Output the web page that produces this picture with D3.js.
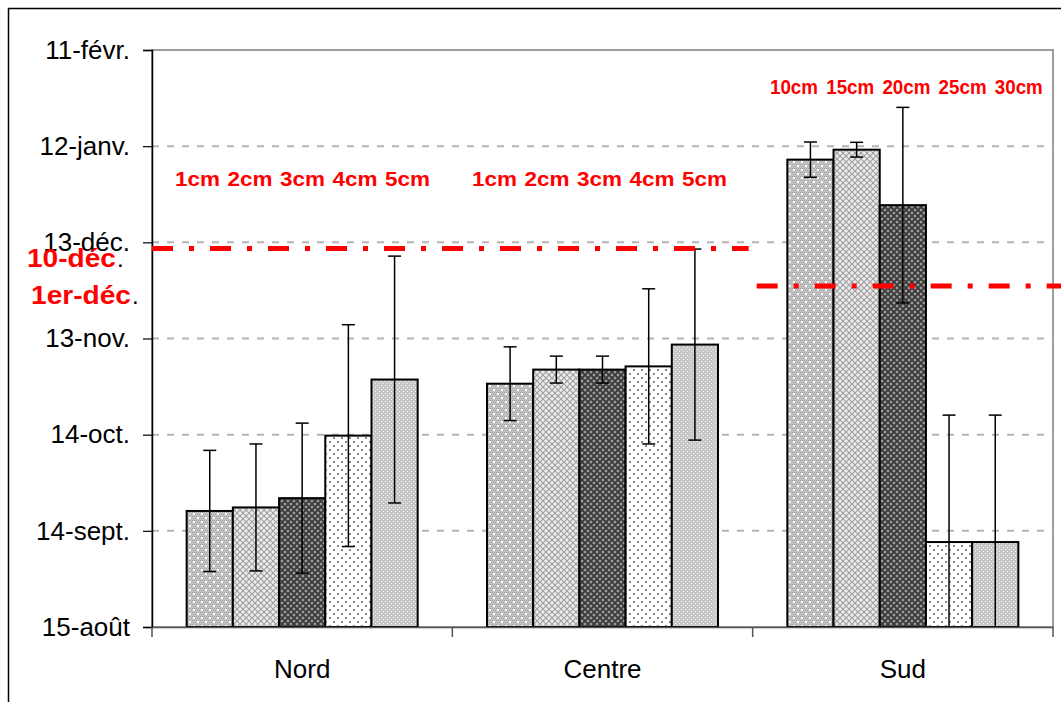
<!DOCTYPE html>
<html>
<head>
<meta charset="utf-8">
<script src="https://cdn.jsdelivr.net/npm/d3@7"></script>
<style>
  body { margin: 0; background: #fff; }
  svg { display: block; font-family: "Liberation Sans", Arial, sans-serif; }
</style>
</head>
<body>
<div id="chart"></div>
<script>
// Chart dimension
const W = 1061, H = 702
const plot = { left: 152, right: 1053, top: 50, bottom: 627 }

// days counted from 15-août (axis min), 30-day steps
const tickValues = [0, 30, 60, 90, 120, 150, 180]
const tickLabels = ["15-août", "14-sept.", "14-oct.", "13-nov.", "13-déc.", "12-janv.", "11-févr."]

const groups = ["Nord", "Centre", "Sud"]
const nordValues = [36.2, 37.3, 40.2, 59.7, 77.2]
const nordErrors = [18.9, 19.8, 23.4, 34.6, 38.5]
const centreValues = [75.9, 80.3, 80.3, 81.3, 88.1]
const centreErrors = [11.5, 4.2, 4.2, 24.2, 29.8]
const sudValues = [145.8, 148.9, 131.6, 26.5, 26.5]
const sudErrors = [5.5, 2.3, 30.5, 39.6, 39.6]

const depthLabelsNC = ["1cm", "2cm", "3cm", "4cm", "5cm"]
const depthLabelsSud = ["10cm", "15cm", "20cm", "25cm", "30cm"]

// reference dates (red dash-dot lines)
const ref10dec = 118.1
const ref1erdec = 106.4

const series = [nordValues, centreValues, sudValues]
const errors = [nordErrors, centreErrors, sudErrors]

let data = []
groups.forEach(function (g, gi) {
    series[gi].forEach(function (v, i) {
        data.push({ group: g, idx: i, value: v, err: errors[gi][i] })
    })
})

const svg = d3.select("#chart").append("svg")
    .attr("width", W)
    .attr("height", H)

// fill patterns, one per bar position
const defs = svg.append("defs")

function pattern(id, size) {
    return defs.append("pattern")
        .attr("id", id)
        .attr("patternUnits", "userSpaceOnUse")
        .attr("width", size).attr("height", size)
}
// 1: light gray mesh with white specks
let p1 = pattern("p1", 8)
p1.append("rect").attr("width", 8).attr("height", 8).attr("fill", "#c4c4c4")
for (let i = 0; i < 8; i += 2) {
    for (let j = (i / 2) % 2; j < 8; j += 2) {
        p1.append("rect").attr("x", j).attr("y", i).attr("width", 1).attr("height", 1).attr("fill", "#a6a6a6")
    }
}
p1.append("rect").attr("x", 1).attr("y", 1).attr("width", 2).attr("height", 2).attr("fill", "#fff")
p1.append("rect").attr("x", 5).attr("y", 5).attr("width", 2).attr("height", 2).attr("fill", "#fff")
// 2: light diamond lattice
let p2 = pattern("p2", 6)
p2.append("rect").attr("width", 6).attr("height", 6).attr("fill", "#ececec")
p2.append("path").attr("d", "M0,0L6,6M6,0L0,6").attr("stroke", "#a0a0a0").attr("stroke-width", 1.2)
// 3: dark lattice
let p3 = pattern("p3", 6)
p3.append("rect").attr("width", 6).attr("height", 6).attr("fill", "#9c9c9c")
p3.append("path").attr("d", "M0,0L6,6M6,0L0,6").attr("stroke", "#3a3a3a").attr("stroke-width", 1.8)
// 4: white with sparse dots
let p4 = pattern("p4", 8)
p4.append("rect").attr("width", 8).attr("height", 8).attr("fill", "#fff")
p4.append("rect").attr("x", 1).attr("y", 1).attr("width", 2).attr("height", 2).attr("fill", "#8a8a8a")
p4.append("rect").attr("x", 5).attr("y", 5).attr("width", 2).attr("height", 2).attr("fill", "#8a8a8a")
// 5: light gray fine dots
let p5 = pattern("p5", 4)
p5.append("rect").attr("width", 4).attr("height", 4).attr("fill", "#c8c8c8")
p5.append("rect").attr("x", 1).attr("y", 1).attr("width", 1).attr("height", 1).attr("fill", "#f2f2f2")
p5.append("rect").attr("x", 3).attr("y", 3).attr("width", 1).attr("height", 1).attr("fill", "#f2f2f2")

defs.append("clipPath").attr("id", "plotclip")
    .append("rect")
    .attr("x", plot.left).attr("y", plot.top)
    .attr("width", plot.right - plot.left).attr("height", plot.bottom - plot.top)

// outer frame
svg.append("rect")
    .attr("x", 8.5).attr("y", 8.5)
    .attr("width", W + 20).attr("height", H + 20)
    .attr("fill", "none").attr("stroke", "#000").attr("stroke-width", 1.5)

// scales
const x0 = d3.scaleBand().domain(groups).range([plot.left, plot.right])
const x1 = d3.scaleBand().domain(d3.range(5)).range([0, x0.bandwidth()]).paddingInner(0).paddingOuter(0.75)
const y = d3.scaleLinear().domain([0, 180]).range([plot.bottom, plot.top])

// plot area border
svg.append("rect")
    .attr("x", plot.left).attr("y", plot.top)
    .attr("width", plot.right - plot.left).attr("height", plot.bottom - plot.top)
    .attr("fill", "none").attr("stroke", "#8c8c8c").attr("stroke-width", 1.7)

// gridlines (dashed)
svg.append("g").selectAll("line")
    .data(tickValues.slice(1, -1))
    .join("line")
    .attr("x1", plot.left).attr("x2", plot.right)
    .attr("y1", d => y(d)).attr("y2", d => y(d))
    .attr("stroke", "#b4b4b4").attr("stroke-width", 2)
    .attr("stroke-dasharray", "7,8")

// bars
svg.append("g").selectAll("rect")
    .data(data)
    .join("rect")
    .attr("x", d => x0(d.group) + x1(d.idx))
    .attr("y", d => y(d.value))
    .attr("width", x1.bandwidth())
    .attr("height", d => y(0) - y(d.value))
    .attr("fill", d => "url(#p" + (d.idx + 1) + ")")
    .attr("stroke", "#000").attr("stroke-width", 2)

// error bars
const eb = svg.append("g").attr("clip-path", "url(#plotclip)")
    .selectAll("g").data(data).join("g")
    .attr("transform", d => `translate(${x0(d.group) + x1(d.idx) + x1.bandwidth() / 2},0)`)
eb.append("line")
    .attr("y1", d => y(d.value + d.err)).attr("y2", d => y(d.value - d.err))
    .attr("stroke", "#000").attr("stroke-width", 1.5)
eb.append("line")
    .attr("x1", -6.5).attr("x2", 6.5)
    .attr("y1", d => y(d.value + d.err)).attr("y2", d => y(d.value + d.err))
    .attr("stroke", "#000").attr("stroke-width", 1.5)
eb.append("line")
    .attr("x1", -6.5).attr("x2", 6.5)
    .attr("y1", d => y(d.value - d.err)).attr("y2", d => y(d.value - d.err))
    .attr("stroke", "#000").attr("stroke-width", 1.5)

// y axis
const yAxis = svg.append("g")
    .attr("transform", `translate(${plot.left},0)`)
    .call(d3.axisLeft(y).tickValues(tickValues).tickSize(9).tickPadding(13)
        .tickFormat((d, i) => tickLabels[i]))
yAxis.select(".domain").attr("stroke", "#000").attr("stroke-width", 1.5)
yAxis.selectAll(".tick line").attr("stroke", "#000").attr("stroke-width", 1.2)
yAxis.selectAll("text")
    .attr("font-size", 26).attr("font-family", "Liberation Sans, Arial, sans-serif")
    .attr("fill", "#000")

// x axis
const xAxis = svg.append("g")
    .attr("transform", `translate(0,${plot.bottom})`)
    .call(d3.axisBottom(x0).tickSize(0).tickPadding(33))
xAxis.select(".domain").attr("stroke", "#555").attr("stroke-width", 1.5)
xAxis.selectAll("text")
    .attr("font-size", 26).attr("font-family", "Liberation Sans, Arial, sans-serif")
    .attr("fill", "#000")
svg.append("g").selectAll("line")
    .data([plot.left].concat(groups.map(g => x0(g) + x0.bandwidth())))
    .join("line")
    .attr("x1", d => d).attr("x2", d => d)
    .attr("y1", plot.bottom).attr("y2", plot.bottom + 10)
    .attr("stroke", "#555").attr("stroke-width", 1.5)

// red dash-dot reference lines
svg.append("line")
    .attr("x1", plot.left).attr("x2", x0("Sud") - 4)
    .attr("y1", y(ref10dec)).attr("y2", y(ref10dec))
    .attr("stroke", "#ff0000").attr("stroke-width", 5)
    .attr("stroke-dasharray", "21,16,5,16")
svg.append("line")
    .attr("x1", x0("Sud") + 4).attr("x2", W)
    .attr("y1", y(ref1erdec)).attr("y2", y(ref1erdec))
    .attr("stroke", "#ff0000").attr("stroke-width", 5)
    .attr("stroke-dasharray", "21,16,5,16")

// red date labels (label sits over the 13-déc. tick label, as in the original)
function dateLabel(txt, xpos, ypos, len) {
    svg.append("text")
        .attr("x", xpos).attr("y", ypos)
        .attr("font-size", 26).attr("font-weight", "bold")
        .attr("fill", "#ff0000")
        .attr("textLength", len).attr("lengthAdjust", "spacingAndGlyphs")
        .text(txt)
    svg.append("text")
        .attr("x", xpos + len + 1).attr("y", ypos)
        .attr("font-size", 24).attr("fill", "#000")
        .text(".")
}
dateLabel("10-déc", 27, 267, 89)
dateLabel("1er-déc", 31, 304, 100)

// red depth labels
function depthLabels(labels, x0pos, step, ypos, size, len) {
    svg.append("g").selectAll("text")
        .data(labels)
        .join("text")
        .attr("x", (d, i) => x0pos + i * step)
        .attr("y", ypos)
        .attr("font-size", size).attr("font-weight", "bold")
        .attr("fill", "#ff0000")
        .attr("textLength", len).attr("lengthAdjust", "spacingAndGlyphs")
        .text(d => d)
}
depthLabels(depthLabelsNC, 175, 52.5, 186, 20, 45)
depthLabels(depthLabelsNC, 472, 52.5, 186, 20, 45)
depthLabels(depthLabelsSud, 770, 56.2, 94, 20, 48)
</script>
</body>
</html>
